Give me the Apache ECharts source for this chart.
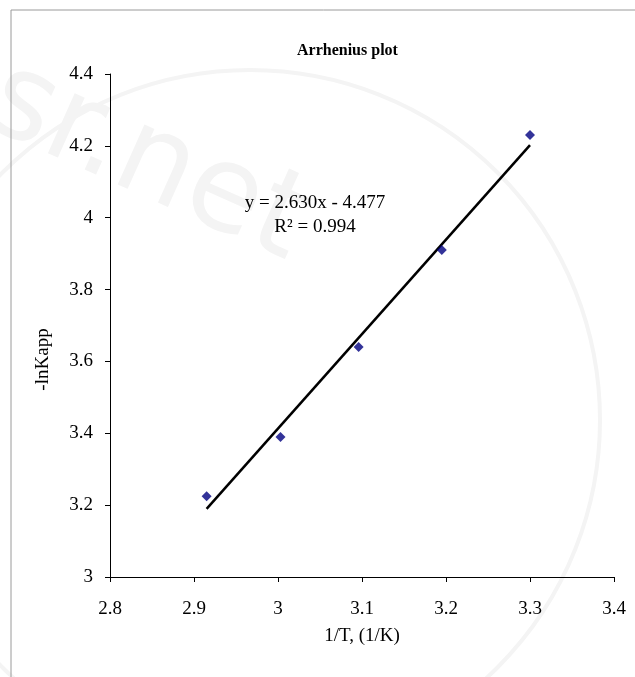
<!DOCTYPE html>
<html>
<head>
<meta charset="utf-8">
<script src="https://cdn.jsdelivr.net/npm/echarts@6/dist/echarts.min.js"></script>
<style>
  html, body { margin: 0; padding: 0; background: #fff; }
  #chart { width: 635px; height: 677px; }
</style>
</head>
<body>
<div id="chart"></div>
<script>
// 1/T values (x1000) and -lnKapp
const invT = [2.915, 3.003, 3.096, 3.195, 3.300];
const lnK = [3.225, 3.39, 3.64, 3.91, 4.23];
// linear fit shown on the chart
const slope = 2.630;
const intercept = -4.477;
const r2 = 0.994;

const points = invT.map((x, i) => [x, lnK[i]]);
const xFirst = invT[0];
const xLast = invT[invT.length - 1];
const trend = [
  [xFirst, slope * xFirst + intercept],
  [xLast, slope * xLast + intercept],
];

const font = '"Liberation Serif", "Times New Roman", serif';
const chart = echarts.init(document.getElementById('chart'));

chart.setOption({
  animation: false,
  title: {
    text: 'Arrhenius plot',
    left: 292,
    top: 38,
    textStyle: { fontFamily: font, fontSize: 16, fontWeight: 'bold', color: '#000' },
  },
  graphic: [
    // faint watermark in the background
    {
      type: 'text',
      x: 18,
      y: 40,
      rotation: -0.42,
      z: -10,
      silent: true,
      style: { text: 'sr.net', font: '120px "DejaVu Sans", sans-serif', fill: '#f4f4f4' },
    },
    {
      type: 'circle',
      shape: { cx: 250, cy: 420, r: 350 },
      z: -10,
      silent: true,
      style: { fill: 'none', stroke: '#f4f4f4', lineWidth: 4 },
    },
    {
      type: 'rect',
      shape: { x: 11, y: 10, width: 700, height: 700 },
      style: { fill: 'none', stroke: '#9a9a9a', lineWidth: 1 },
      silent: true,
    },
    {
      type: 'text',
      x: 315,
      y: 215,
      style: {
        text: 'y = ' + slope.toFixed(3) + 'x - ' + Math.abs(intercept).toFixed(3) + '\nR\u00b2 = ' + r2.toFixed(3),
        font: '19px ' + font,
        fill: '#000',
        align: 'center',
        verticalAlign: 'middle',
        lineHeight: 24,
      },
    },
  ],
  grid: { left: 110, right: 21, top: 74, bottom: 100 },
  xAxis: {
    type: 'value',
    min: 2.8,
    max: 3.4,
    interval: 0.1,
    name: '1/T, (1/K)',
    nameLocation: 'middle',
    nameGap: 50,
    nameTextStyle: { fontFamily: font, fontSize: 19, color: '#000' },
    axisLine: { lineStyle: { color: '#000', width: 1 } },
    axisTick: { show: true, length: 5, lineStyle: { color: '#000' } },
    axisLabel: { fontFamily: font, fontSize: 19, color: '#000', margin: 23 },
    splitLine: { show: false },
  },
  yAxis: {
    type: 'value',
    min: 3,
    max: 4.4,
    interval: 0.2,
    name: '-lnKapp',
    nameLocation: 'middle',
    nameGap: 57,
    nameRotate: 90,
    nameTextStyle: { fontFamily: font, fontSize: 19, color: '#000', padding: [0, 68, 0, 0] },
    axisLine: { show: true, lineStyle: { color: '#000', width: 1 } },
    axisTick: { show: true, length: 5, lineStyle: { color: '#000' } },
    axisLabel: { fontFamily: font, fontSize: 19, color: '#000', margin: 17 },
    splitLine: { show: false },
  },
  series: [
    {
      type: 'line',
      data: trend,
      showSymbol: false,
      lineStyle: { color: '#000', width: 2.5 },
      z: 2,
    },
    {
      type: 'scatter',
      data: points,
      symbol: 'diamond',
      symbolSize: 10,
      itemStyle: { color: '#000080' },
      z: 3,
    },
  ],
});
</script>
</body>
</html>
